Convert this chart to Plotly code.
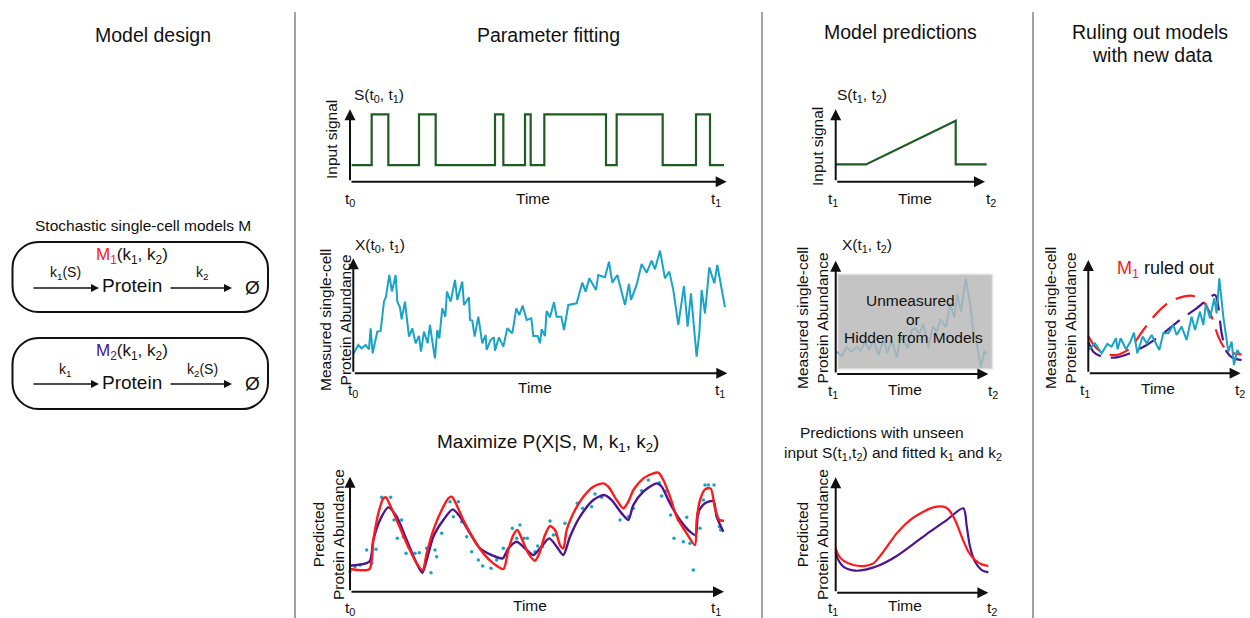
import plotly.graph_objects as go

FW, FH = 1250, 618
FONT = "Arial, Liberation Sans, sans-serif"
GREEN = "#1f5c22"
CYAN = "#19a3c7"
RED = "#ff1a1a"
PURPLE = "#4b1491"
INK = "#111111"
FS = 15.5      # small text size
FT = 19.5      # column title size

# ---------------- data (arbitrary units) ----------------
# Parameter fitting: input signal S(t0,t1)
fit_sig_t = [5, 65, 115, 207, 257, 435, 460, 525, 542, 583, 768, 800, 938, 1038, 1080, 1122]
fit_sig_s = [50, 202, 50, 202, 50, 202, 50, 202, 50, 202, 50, 202, 50, 202, 50, 50]

# Parameter fitting: measured single-cell trace X(t0,t1)
meas_t = [0, 15, 25, 37, 47, 52, 58, 72, 82, 92, 98, 108, 116, 127, 132, 140, 145, 155, 167, 177,
          187, 197, 203, 212, 223, 230, 238, 245, 252, 258, 267, 276, 281, 292, 305, 312, 327, 332,
          347, 350, 357, 364, 375, 387, 397, 400, 412, 422, 425, 437, 450, 462, 477, 489, 498, 508,
          520, 534, 540, 553, 560, 565, 575, 580, 590, 602, 610, 624, 632, 645, 670, 687, 697, 708,
          728, 735, 755, 767, 777, 792, 815, 827, 833, 850, 865, 880, 895, 905, 920, 935, 948, 960,
          975, 992, 1003, 1013, 1030, 1038, 1045, 1055, 1068, 1083, 1092, 1115]
meas_v = [58, 85, 75, 85, 72, 135, 60, 125, 127, 215, 230, 295, 245, 295, 215, 198, 162, 215, 110, 135,
          90, 112, 65, 125, 90, 145, 90, 45, 130, 105, 195, 170, 245, 215, 280, 220, 275, 205,
          228, 160, 158, 110, 170, 90, 115, 70, 100, 108, 68, 108, 80, 135, 120, 195, 175, 203,
          160, 165, 112, 112, 90, 132, 112, 187, 168, 213, 170, 170, 130, 205, 210, 272, 245, 285,
          250, 295, 288, 335, 272, 295, 205, 268, 220, 265, 328, 302, 338, 312, 368, 285, 305, 250,
          145, 262, 140, 240, 50, 120, 250, 180, 318, 270, 325, 198]

# Parameter fitting: fitted model predictions
m1_fit_t = [0, 58, 70, 85, 100, 108, 120, 140, 170, 200, 218, 230, 250, 275, 295, 305, 315, 340, 370,
            400, 430, 460, 475, 490, 502, 515, 535, 555, 568, 585, 600, 615, 630, 640, 650, 675, 700,
            730, 760, 775, 800, 820, 835, 850, 880, 910, 925, 940, 960, 980, 1010, 1035, 1040, 1050,
            1065, 1082, 1095, 1108, 1122]
m1_fit_v = [68, 68, 155, 235, 280, 283, 260, 215, 145, 85, 65, 115, 185, 245, 280, 285, 270, 215, 160,
            115, 85, 68, 125, 170, 185, 160, 115, 93, 115, 170, 197, 185, 140, 130, 185, 245, 285,
            315, 325, 315, 275, 250, 270, 305, 340, 355, 357, 335, 285, 225, 175, 140, 215, 275,
            307, 310, 250, 215, 213]
m2_fit_t = [0, 58, 70, 90, 115, 140, 170, 200, 217, 230, 250, 280, 308, 330, 360, 390, 425, 458, 475,
            500, 520, 550, 570, 598, 620, 640, 660, 690, 730, 762, 785, 815, 835, 850, 880, 920, 935,
            960, 990, 1020, 1037, 1045, 1065, 1090, 1100, 1120]
m2_fit_v = [78, 90, 155, 215, 253, 225, 155, 85, 57, 95, 165, 215, 247, 225, 175, 130, 110, 100, 130,
            150, 135, 110, 130, 160, 135, 110, 165, 225, 275, 290, 275, 235, 215, 260, 300, 325, 315,
            265, 215, 180, 170, 240, 265, 272, 225, 180]
dots_t = [0, 15, 30, 50, 65, 78, 95, 122, 132, 155, 142, 160, 168, 175, 195, 208, 230, 243, 255, 260,
          275, 300, 310, 325, 335, 350, 365, 385, 398, 423, 440, 460, 487, 500, 510, 522, 532, 555,
          563, 577, 600, 610, 620, 645, 682, 698, 725, 735, 755, 810, 835, 850, 875, 895, 928, 935,
          950, 962, 972, 985, 1000, 1010, 1020, 1030, 1045, 1050, 1060, 1065, 1075, 1092, 1108, 1112]
dots_v = [60, 75, 80, 125, 85, 127, 283, 283, 215, 215, 160, 165, 115, 135, 115, 117, 130, 57, 125, 105,
          175, 270, 225, 270, 210, 165, 120, 95, 77, 70, 95, 130, 190, 160, 200, 160, 160, 120,
          137, 135, 212, 170, 170, 205, 265, 250, 255, 293, 283, 215, 225, 250, 303, 335, 327, 287,
          303, 230, 160, 215, 150, 223, 145, 65, 235, 190, 275, 320, 320, 320, 195, 185]

# Model predictions: unseen input S(t1,t2)
pred_sig_t = [0, 91, 360, 360, 453]
pred_sig_s = [52, 52, 183, 52, 52]

# Model predictions: hidden measured trace X(t1,t2)
hid_t = [3, 18, 33, 48, 63, 75, 88, 101, 113, 128, 143, 155, 168, 183, 195, 206, 216, 228, 240, 251,
         263, 278, 291, 303, 315, 331, 343, 356, 365, 376, 390, 403, 413, 423, 435, 446, 455]
hid_v = [67, 54, 80, 67, 82, 70, 97, 72, 102, 57, 102, 64, 102, 50, 114, 92, 77, 132, 137, 120,
         150, 80, 142, 127, 164, 140, 212, 170, 240, 187, 287, 212, 127, 92, 20, 67, 60]
hidden_box_t = [8, 468]
hidden_box_v = [17, 297]

# Model predictions: predicted abundance
m1_pred_t = [0, 8, 23, 53, 85, 113, 143, 183, 223, 263, 293, 323, 338, 358, 378, 398, 418, 438, 458]
m1_pred_v = [133, 113, 96, 83, 80, 88, 123, 178, 218, 243, 256, 258, 250, 218, 168, 123, 98, 85, 80]
m2_pred_t = [0, 8, 23, 58, 93, 133, 183, 233, 283, 333, 383, 393, 403, 418, 438, 458]
m2_pred_v = [123, 98, 78, 66, 70, 83, 110, 146, 183, 218, 253, 200, 138, 93, 68, 61]

# Ruling out: new data with dashed predictions
new_t = [0, 20, 40, 57, 70, 83, 88, 97, 113, 125, 137, 147, 163, 175, 190, 213, 225, 240, 255, 265,
         280, 295, 310, 320, 335, 345, 353, 365, 378, 385, 393, 405, 420, 430, 437, 447, 455]
new_v = [70, 90, 60, 88, 80, 105, 72, 105, 72, 92, 122, 60, 110, 90, 115, 70, 120, 120, 145, 115,
         140, 100, 170, 130, 185, 145, 210, 165, 225, 180, 285, 170, 65, 95, 25, 70, 58]
m1_new_t = [0, 20, 45, 85, 125, 165, 205, 245, 285, 315, 345, 370, 390, 410, 435, 460]
m1_new_v = [112, 80, 60, 55, 75, 130, 180, 215, 230, 232, 215, 170, 110, 75, 60, 57]
m2_new_t = [0, 15, 40, 80, 125, 175, 225, 275, 325, 380, 390, 400, 415, 435, 460]
m2_new_v = [95, 65, 50, 47, 60, 85, 120, 160, 195, 235, 200, 120, 65, 45, 40]

# ---------------- figure ----------------
fig = go.Figure()
annotations = []
shapes = []


def pxx(px):
    return px / FW


def pxy(py):
    return 1 - py / FH


def add_panel(idx, ox, oy, w, h, xend, yend):
    """Subplot whose origin is at pixel (ox, oy); 3 data units per pixel."""
    sfx = "" if idx == 1 else str(idx)
    fig.update_layout(**{
        "xaxis" + sfx: dict(domain=[pxx(ox - 2), pxx(ox + w)], range=[-6, 3 * w], visible=False,
                            anchor="y" + sfx, fixedrange=True),
        "yaxis" + sfx: dict(domain=[pxy(oy + 2), pxy(oy - h)], range=[-6, 3 * h], visible=False,
                            anchor="x" + sfx, fixedrange=True),
    })
    for (tx, ty) in [(xend, 0), (0, yend)]:
        annotations.append(dict(
            xref="x" + sfx, yref="y" + sfx, axref="x" + sfx, ayref="y" + sfx,
            x=tx, y=ty, ax=0, ay=0, text="", showarrow=True,
            arrowhead=2, arrowsize=1.1, arrowwidth=2, arrowcolor=INK, standoff=0))
    return "x" + sfx, "y" + sfx


def line(ax, t, v, color, width=2, dash=None, shape="linear", smoothing=0.8):
    ln = dict(color=color, width=width, dash=dash, shape=shape)
    if shape == "spline":
        ln["smoothing"] = smoothing
    fig.add_trace(go.Scatter(x=t, y=v, xaxis=ax[0], yaxis=ax[1], mode="lines", line=ln,
                             hoverinfo="skip", showlegend=False))


def txt(px, py, text, size=FS, color=INK, angle=0, xanchor="center", yanchor="middle", **kw):
    annotations.append(dict(xref="paper", yref="paper", x=pxx(px), y=pxy(py), text=text,
                            showarrow=False, textangle=angle, xanchor=xanchor, yanchor=yanchor,
                            font=dict(size=size, color=color, family=FONT), **kw))


def arrow(px0, px1, py, width=1.6):
    annotations.append(dict(xref="paper", yref="paper", x=pxx(px1), y=pxy(py), ax=px0 - px1, ay=0,
                            text="", showarrow=True, arrowhead=2, arrowsize=1.0,
                            arrowwidth=width, arrowcolor=INK, standoff=0))


# Panels
pA = add_panel(1, 350, 181.7, 382, 80, 1130, 217)
pB = add_panel(2, 353.3, 373.3, 380, 135, 1122, 345)
pC = add_panel(3, 350, 591.7, 382, 125, 1122, 345)
pD = add_panel(4, 835.7, 181.7, 155, 80, 448, 217)
pE = add_panel(5, 835.7, 374, 160, 120, 458, 340)
pF = add_panel(6, 835.7, 592.7, 160, 120, 458, 346)
pG = add_panel(7, 1088.3, 373.3, 158, 120, 457, 340)

# Traces
line(pA, fit_sig_t, fit_sig_s, GREEN, 2.2, shape="hv")
line(pB, meas_t, meas_v, CYAN, 2)
fig.add_trace(go.Scatter(x=dots_t, y=dots_v, xaxis=pC[0], yaxis=pC[1], mode="markers",
                         marker=dict(color=CYAN, size=3.5), hoverinfo="skip", showlegend=False))
line(pC, m2_fit_t, m2_fit_v, PURPLE, 2.4, shape="spline", smoothing=0.7)
line(pC, m1_fit_t, m1_fit_v, RED, 2.4, shape="spline", smoothing=0.7)
line(pD, pred_sig_t, pred_sig_s, GREEN, 2.2)
line(pE, hid_t, hid_v, CYAN, 2)
line(pF, m2_pred_t, m2_pred_v, PURPLE, 2.2, shape="spline")
line(pF, m1_pred_t, m1_pred_v, RED, 2.2, shape="spline")
line(pG, m1_new_t, m1_new_v, RED, 2.2, dash="20px,10px", shape="spline")
line(pG, m2_new_t, m2_new_v, PURPLE, 2.2, dash="20px,10px", shape="spline")
line(pG, new_t, new_v, CYAN, 2)

# Hidden box (soft-edged grey)
for grow, alpha in [(6, 0.18), (3, 0.3), (0, 0.72)]:
    shapes.append(dict(type="rect", xref=pE[0], yref=pE[1],
                       x0=hidden_box_t[0] - grow, x1=hidden_box_t[1] + grow,
                       y0=hidden_box_v[0] - grow, y1=hidden_box_v[1] + grow,
                       line=dict(width=0), fillcolor=f"rgba(185,185,185,{alpha})", layer="above"))

# Separators
for sx in [295, 762, 1033]:
    shapes.append(dict(type="line", xref="paper", yref="paper", x0=pxx(sx), x1=pxx(sx),
                       y0=pxy(12), y1=0, line=dict(color="#a3a3a3", width=2)))


# Rounded model boxes
def rbox(x0, y0, x1, y1, r=26):
    X0, X1 = pxx(x0), pxx(x1)
    Yt, Yb = pxy(y0), pxy(y1)
    rx, ry = r / FW, r / FH
    k = 0.45
    p = (f"M {X0+rx},{Yt} L {X1-rx},{Yt} C {X1-rx*k},{Yt} {X1},{Yt-ry*(1-k)} {X1},{Yt-ry} "
         f"L {X1},{Yb+ry} C {X1},{Yb+ry*k} {X1-rx*k},{Yb} {X1-rx},{Yb} "
         f"L {X0+rx},{Yb} C {X0+rx*k},{Yb} {X0},{Yb+ry*k} {X0},{Yb+ry} "
         f"L {X0},{Yt-ry} C {X0},{Yt-ry*k} {X0+rx*k},{Yt} {X0+rx},{Yt} Z")
    shapes.append(dict(type="path", xref="paper", yref="paper", path=p,
                       line=dict(color=INK, width=2)))


rbox(12.5, 242, 268, 312)
rbox(12.5, 338, 268, 409)

# ---------------- texts ----------------
# Column titles
txt(153, 35, "Model design", FT)
txt(548, 35, "Parameter fitting", FT)
txt(900, 32, "Model predictions", FT)
txt(1150, 32, "Ruling out models", FT)
txt(1152, 55, "with new data", FT)

# Model design
txt(143, 225, "Stochastic single-cell models M", FS)
txt(132, 256, f"<span style='color:{RED}'>M<sub>1</sub></span>(k<sub>1</sub>, k<sub>2</sub>)", 17)
txt(132, 286, "Protein", 19)
txt(252, 287, "Ø", 19)
txt(65, 273, "k<sub>1</sub>(S)", 14)
txt(202, 273, "k<sub>2</sub>", 14)
arrow(32, 99, 288)
arrow(169, 232, 288)
txt(132, 352, f"<span style='color:{PURPLE}'>M<sub>2</sub></span>(k<sub>1</sub>, k<sub>2</sub>)", 17)
txt(132, 382, "Protein", 19)
txt(252, 383, "Ø", 19)
txt(65, 370, "k<sub>1</sub>", 14)
txt(202, 370, "k<sub>2</sub>(S)", 14)
arrow(32, 99, 384)
arrow(169, 232, 384)

# Parameter fitting labels
txt(352, 95, "S(t<sub>0</sub>, t<sub>1</sub>)", FS, xanchor="left")
txt(332, 140, "Input signal", FS, angle=-90)
txt(350, 199, "t<sub>0</sub>", FS)
txt(533, 198, "Time", FS)
txt(716, 199, "t<sub>1</sub>", FS)

txt(353, 245, "X(t<sub>0</sub>, t<sub>1</sub>)", FS, xanchor="left")
txt(335, 320, "Measured single-cell<br>Protein Abundance", FS, angle=-90)
txt(353, 390, "t<sub>0</sub>", FS)
txt(535, 387, "Time", FS)
txt(720, 390, "t<sub>1</sub>", FS)

txt(548, 443, "Maximize P(X|S, M, k<sub>1</sub>, k<sub>2</sub>)", 19)
txt(328, 535, "Predicted<br>Protein Abundance", FS, angle=-90)
txt(350, 608, "t<sub>0</sub>", FS)
txt(530, 605, "Time", FS)
txt(716, 608, "t<sub>1</sub>", FS)

# Model predictions labels
txt(835, 95, "S(t<sub>1</sub>, t<sub>2</sub>)", FS, xanchor="left")
txt(817, 147, "Input signal", FS, angle=-90)
txt(833, 199, "t<sub>1</sub>", FS)
txt(915, 198, "Time", FS)
txt(991, 199, "t<sub>2</sub>", FS)

txt(840, 245, "X(t<sub>1</sub>, t<sub>2</sub>)", FS, xanchor="left")
txt(812, 318, "Measured single-cell<br>Protein Abundance", FS, angle=-90)
txt(910, 301, "Unmeasured", FS)
txt(913, 319, "or", FS)
txt(913, 337, "Hidden from Models", FS)
txt(833, 391, "t<sub>1</sub>", FS)
txt(905, 389, "Time", FS)
txt(993, 391, "t<sub>2</sub>", FS)

txt(882, 432, "Predictions with unseen", FS)
txt(893, 453, "input S(t<sub>1</sub>,t<sub>2</sub>) and fitted k<sub>1</sub> and k<sub>2</sub>", FS)
txt(812, 535, "Predicted<br>Protein Abundance", FS, angle=-90)
txt(833, 608, "t<sub>1</sub>", FS)
txt(905, 605, "Time", FS)
txt(992, 608, "t<sub>2</sub>", FS)

# Ruling out labels
txt(1165, 269, f"<span style='color:{RED}'>M<sub>1</sub></span> ruled out", 18)
txt(1060, 318, "Measured single-cell<br>Protein Abundance", FS, angle=-90)
txt(1085, 390, "t<sub>1</sub>", FS)
txt(1158, 388, "Time", FS)
txt(1240, 390, "t<sub>2</sub>", FS)

fig.update_layout(
    width=FW, height=FH, margin=dict(l=0, r=0, t=0, b=0),
    paper_bgcolor="white", plot_bgcolor="rgba(0,0,0,0)",
    font=dict(family=FONT, color=INK), showlegend=False,
    annotations=annotations, shapes=shapes,
)

fig.write_html("out.html", config={"displayModeBar": False, "staticPlot": True},
               post_script="document.body.style.margin='0';document.body.style.overflow='hidden';")
